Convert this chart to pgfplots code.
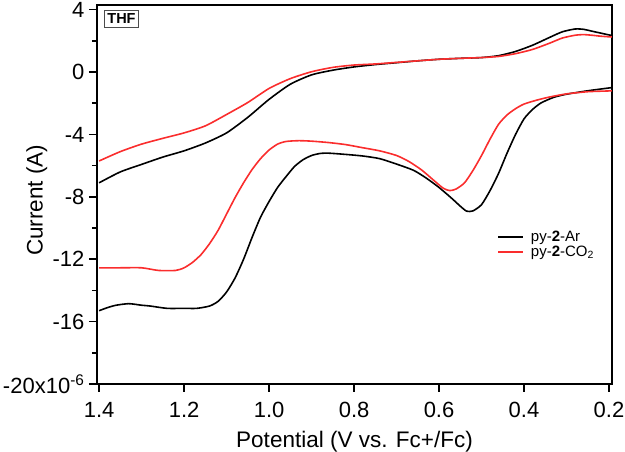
\documentclass[border=0pt]{standalone}
\usepackage{fontspec}
\setmainfont{Liberation Sans}
\usepackage{pgfplots}
\pgfplotsset{compat=1.18}
\definecolor{cvred}{RGB}{250,45,45}
\begin{document}
\begin{tikzpicture}
\begin{axis}[
  name=ax,
  scale only axis,
  width=515pt, height=379pt,
  x dir=reverse,
  xmin=0.193, xmax=1.405,
  ymin=-20, ymax=4.3,
  axis line style={line width=1.6pt},
  tick style={line width=1.6pt, black},
  tick align=outside,
  tick pos=left,
  major tick length=8pt,
  minor tick length=5pt,
  xtick={0.2,0.4,0.6,0.8,1.0,1.2,1.4},
  ytick={-20,-16,-12,-8,-4,0,4},
  yticklabels={-20x10\textsuperscript{-6},-16,-12,-8,-4,0,4},
  minor y tick num=1,
  /pgf/number format/assume math mode=true,
  xticklabel style={/pgf/number format/fixed,/pgf/number format/fixed zerofill,/pgf/number format/precision=1},
  xticklabel shift=7pt,
  yticklabel style={xshift=-1pt},
  ticklabel style={font=\fontsize{22}{26}\selectfont},
  every axis y label/.style={at={(axis description cs:-0.117,0.485)},rotate=90,anchor=center},
  every axis x label/.style={at={(axis description cs:0.5,-0.153)},anchor=center},
  label style={font=\fontsize{22.5}{27}\selectfont},
  xlabel={Potential (V vs. Fc+/Fc)},
  ylabel={Current (A)},
  legend style={draw=none, fill=none, at={(axis description cs:0.775,0.412)}, anchor=north west,
    font=\fontsize{15}{17}\selectfont, row sep=-1pt, inner sep=1pt,
    /tikz/column 1/.style={column sep=5pt}},
  legend cell align=left,
  legend image code/.code={\draw[#1] (0pt,0pt) -- (25pt,0pt);},
  clip=true,
]
% py-2-Ar (black), upper branch
\addplot[black, line width=1.6pt, smooth, tension=0.4] coordinates {
(1.40,-7.10) (1.35,-6.40) (1.30,-5.92) (1.25,-5.45) (1.20,-5.05) (1.15,-4.55)
(1.10,-3.90) (1.05,-2.90) (1.00,-1.75) (0.95,-0.78) (0.90,-0.18) (0.85,0.12)
(0.80,0.33) (0.75,0.48) (0.70,0.60) (0.65,0.72) (0.60,0.82) (0.55,0.88)
(0.50,0.93) (0.46,1.05) (0.42,1.32) (0.38,1.72) (0.34,2.22) (0.31,2.58)
(0.28,2.76) (0.26,2.74) (0.24,2.62) (0.22,2.50) (0.20,2.38) (0.193,2.35)
};
\addlegendentry{py-\textbf{2}-Ar}
% py-2-CO2 (red), upper branch
\addplot[cvred, line width=1.6pt, smooth, tension=0.4] coordinates {
(1.40,-5.70) (1.35,-5.10) (1.30,-4.62) (1.25,-4.25) (1.20,-3.90) (1.15,-3.45)
(1.10,-2.72) (1.05,-1.95) (1.00,-1.05) (0.95,-0.42) (0.90,0.02) (0.85,0.30)
(0.80,0.45) (0.75,0.52) (0.70,0.62) (0.65,0.72) (0.60,0.82) (0.55,0.88)
(0.50,0.93) (0.46,1.00) (0.42,1.18) (0.38,1.45) (0.34,1.85) (0.31,2.18)
(0.28,2.36) (0.26,2.40) (0.24,2.36) (0.22,2.30) (0.20,2.26) (0.193,2.25)
};
\addlegendentry{py-\textbf{2}-CO\textsubscript{2}}
% black lower branch
\addplot[black, line width=1.6pt, smooth, tension=0.4, forget plot] coordinates {
(0.193,-1.00) (0.20,-1.02) (0.25,-1.20) (0.30,-1.42) (0.33,-1.62) (0.36,-1.98)
(0.38,-2.40) (0.40,-3.00) (0.42,-4.00) (0.44,-5.20) (0.46,-6.50) (0.48,-7.60)
(0.50,-8.50) (0.52,-8.90) (0.535,-8.92) (0.55,-8.60) (0.57,-8.10) (0.60,-7.40)
(0.63,-6.80) (0.66,-6.30) (0.70,-5.90) (0.74,-5.55) (0.78,-5.38) (0.82,-5.28)
(0.86,-5.20) (0.88,-5.22) (0.90,-5.35) (0.92,-5.62) (0.94,-6.05) (0.96,-6.70)
(0.98,-7.40) (1.00,-8.30) (1.02,-9.30) (1.04,-10.60) (1.06,-12.00) (1.08,-13.20)
(1.10,-14.10) (1.12,-14.70) (1.14,-15.00) (1.17,-15.15) (1.20,-15.15) (1.24,-15.15)
(1.28,-15.00) (1.30,-14.95) (1.33,-14.85) (1.36,-14.95) (1.38,-15.10) (1.40,-15.30)
};
% red lower branch
\addplot[cvred, line width=1.6pt, smooth, tension=0.4, forget plot] coordinates {
(0.193,-1.20) (0.20,-1.21) (0.25,-1.26) (0.30,-1.40) (0.34,-1.60) (0.37,-1.80)
(0.40,-2.05) (0.42,-2.35) (0.44,-2.75) (0.46,-3.35) (0.48,-4.30) (0.50,-5.35)
(0.52,-6.30) (0.54,-7.10) (0.56,-7.50) (0.575,-7.60) (0.59,-7.45) (0.61,-7.00)
(0.64,-6.30) (0.67,-5.75) (0.70,-5.35) (0.74,-5.05) (0.78,-4.85) (0.82,-4.65)
(0.86,-4.52) (0.90,-4.43) (0.93,-4.40) (0.96,-4.45) (0.98,-4.62) (1.00,-5.00)
(1.02,-5.55) (1.04,-6.25) (1.06,-7.10) (1.08,-8.05) (1.10,-9.10) (1.12,-10.15)
(1.14,-11.00) (1.16,-11.70) (1.18,-12.20) (1.20,-12.55) (1.22,-12.72) (1.26,-12.72)
(1.30,-12.55) (1.35,-12.55) (1.40,-12.55)
};
\node[draw=black!70, line width=0.8pt, anchor=north west, inner xsep=3pt, inner ysep=3.5pt,
  font=\bfseries\fontsize{14.5}{17}\selectfont] at (axis description cs:0.0136,0.987) {THF};
\end{axis}
\pgfresetboundingbox
\path ([shift={(-97pt,-68pt)}]ax.south west) rectangle ([shift={(13pt,5pt)}]ax.north east);
\end{tikzpicture}
\end{document}
